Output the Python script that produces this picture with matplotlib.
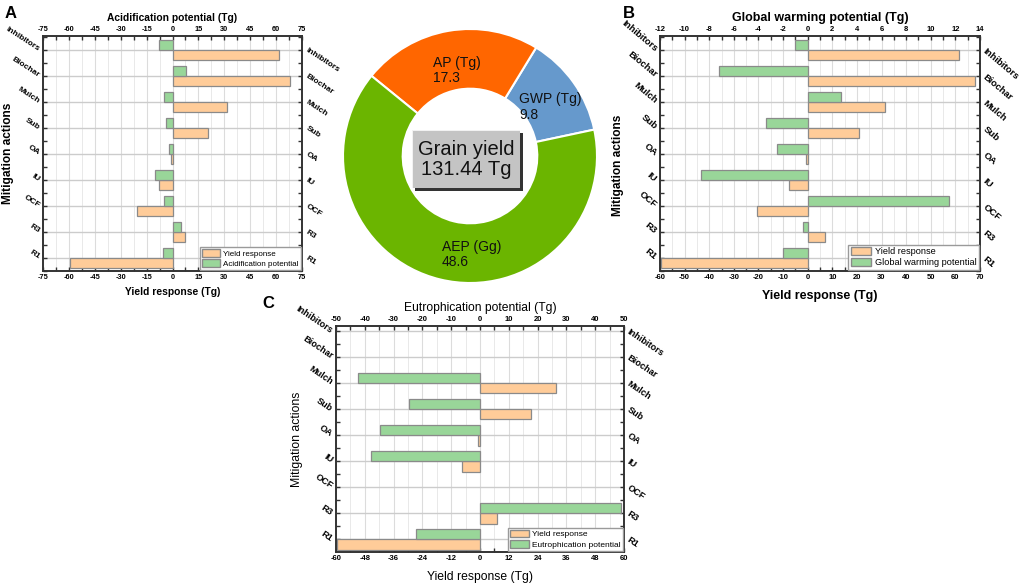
import matplotlib
matplotlib.use('Agg')
import matplotlib.pyplot as plt
import numpy as np
from matplotlib.patches import Rectangle, Patch
from matplotlib.ticker import MultipleLocator, FixedLocator

plt.rcParams['font.family'] = ['Liberation Sans', 'DejaVu Sans']
plt.rcParams['axes.unicode_minus'] = False

# ---------------- data ----------------
actions = ['Inhibitors', 'Biochar', 'Mulch', 'Sub', 'OA', 'IU', 'OCF', 'R3', 'R1']
yield_response = [61.5, 68.0, 31.5, 20.8, -0.8, -7.6, -20.4, 7.1, -59.5]
acidification = [-7.8, 7.8, -5.2, -3.5, -2.1, -9.9, -4.9, 4.9, -5.6]
global_warming = [-1.03, -7.2, 2.7, -3.39, -2.49, -8.67, 11.5, -0.41, -1.98]
yield_response_c = [np.nan, np.nan, 31.6, 21.1, -0.7, -7.6, np.nan, 7.2, -59.6]
eutrophication = [np.nan, np.nan, -42.5, -24.8, -34.6, -38.0, np.nan, 49.1, -22.3]

pie_names = ['GWP (Tg)', 'AP (Tg)', 'AEP (Gg)']
pie_values = [9.8, 17.3, 48.6]
center_text = 'Grain yield\n131.44 Tg'

ORANGE = '#FFCC99'
GREEN = '#99D699'
EDGE = '#8a8a8a'
pie_colors = ['#6699CC', '#FF6600', '#6BB500']

W, H = 1021, 583
fig = plt.figure(figsize=(W / 100, H / 100), dpi=100)


def px_rect(l, t, r, b):
    return [l / W, 1 - b / H, (r - l) / W, (b - t) / H]


def panel(rect, yv, ev, blim, bstep, tlim, tstep, bottom_label, top_label,
          env_name, bold, lab_fs, ylab_fs, tick_fs, cat_fs, leg_fs, ylim,
          rot, ylab_pos, bpad):
    fw = 'bold' if bold else 'normal'
    ax = fig.add_axes(rect)
    ax2 = ax.twiny()
    y = np.arange(len(actions))
    ax.barh(y + 0.2, yv, height=0.4, color=ORANGE, edgecolor=EDGE,
            linewidth=0.9, zorder=3)
    ax2.barh(y - 0.2, ev, height=0.4, color=GREEN, edgecolor=EDGE,
             linewidth=0.9, zorder=3)
    ax.set_xlim(blim)
    ax2.set_xlim(tlim)
    ax.set_ylim(ylim)

    ax.xaxis.set_major_locator(MultipleLocator(bstep))
    ax.xaxis.set_minor_locator(MultipleLocator(bstep / 2))
    ax2.xaxis.set_major_locator(MultipleLocator(tstep))
    ax2.xaxis.set_minor_locator(MultipleLocator(tstep / 2))
    ax.set_yticks(y)
    ax.yaxis.set_minor_locator(FixedLocator(np.arange(-0.5, 9, 1.0)))
    ax.set_yticklabels(actions)

    ax.set_axisbelow(True)
    ax.grid(which='major', axis='x', color='#dcdcdc', linewidth=0.8, zorder=0)
    ax.grid(which='minor', axis='x', color='#e9e9e9', linewidth=0.7, zorder=0)
    ax.grid(which='major', axis='y', color='#cccccc', linewidth=1.0, zorder=0)

    ax.tick_params(axis='x', which='both', direction='in', length=3,
                   width=1, color='#333333', top=False, labelsize=tick_fs,
                   pad=2.5)
    ax2.tick_params(axis='x', which='both', direction='in', length=3,
                    width=1, color='#333333', labelsize=tick_fs, pad=2.5)
    ax.tick_params(axis='y', which='both', direction='in', length=3,
                   width=1, color='#333333', left=True, right=True,
                   labelleft=True, labelright=True, labelsize=cat_fs, pad=3)
    for lab in ax.get_xticklabels() + ax2.get_xticklabels():
        lab.set_fontweight('bold')
    for t in ax.yaxis.get_major_ticks():
        t.label1.set(rotation=rot, ha='right', va='center',
                     rotation_mode='anchor', fontweight='bold')
        t.label2.set(rotation=rot, ha='left', va='center',
                     rotation_mode='anchor', fontweight='bold')

    for a in (ax, ax2):
        for s in a.spines.values():
            s.set_color('#333333')
            s.set_linewidth(1.2)

    ax.set_xlabel(bottom_label, fontsize=lab_fs, fontweight=fw, labelpad=bpad)
    ax2.set_xlabel(top_label, fontsize=lab_fs, fontweight=fw, labelpad=3)
    ax.set_ylabel('Mitigation actions', fontsize=ylab_fs, fontweight=fw,
                  va='center')
    ax.yaxis.set_label_coords(*ylab_pos)

    handles = [Patch(facecolor=ORANGE, edgecolor=EDGE, label='Yield response'),
               Patch(facecolor=GREEN, edgecolor=EDGE, label=env_name)]
    leg = ax2.legend(handles=handles, loc='lower right', fontsize=leg_fs,
                     frameon=True, fancybox=False, edgecolor='#9a9a9a',
                     framealpha=1, borderpad=0.25, labelspacing=0.2,
                     handlelength=2.2, handleheight=1.0, handletextpad=0.4,
                     borderaxespad=0.15)
    leg.get_frame().set_linewidth(1.0)
    return ax, ax2


# Panel A
panel(px_rect(43, 36, 302, 271), yield_response, acidification,
      (-75, 75), 15, (-75, 75), 15, 'Yield response (Tg)',
      'Acidification potential (Tg)', 'Acidification potential', True,
      7.4, 8.6, 5.3, 6.0, 5.8, (8.5, -0.54), -33, (-0.135, 0.5), 4)

# Panel B
panel(px_rect(660, 36, 980, 271), yield_response, global_warming,
      (-60, 70), 10, (-12, 14), 2, 'Yield response (Tg)',
      'Global warming potential (Tg)', 'Global warming potential', True,
      9.0, 8.6, 5.5, 6.8, 6.6, (8.5, -0.54), -40, (-0.131, 0.45), 6)

# Panel C
panel(px_rect(336, 326, 624, 552), yield_response_c, eutrophication,
      (-60, 60), 12, (-50, 50), 10, 'Yield response (Tg)',
      'Eutrophication potential (Tg)', 'Eutrophication potential', False,
      8.7, 8.8, 5.5, 6.6, 6.0, (8.49, -0.19), -34, (-0.135, 0.5), 6)

# Pie (donut)
cx, cy, R = 470, 156, 127
axp = fig.add_axes(px_rect(cx - R, cy - R, cx + R, cy + R))
axp.pie(pie_values, colors=pie_colors, startangle=12, counterclock=True,
        radius=1, wedgeprops=dict(width=0.47, edgecolor='white', linewidth=1.5))
axp.set_xlim(-1, 1)
axp.set_ylim(-1, 1)
axp.set_aspect('equal')
axp.axis('off')

label_pos = [(0.386, 0.386), (-0.29, 0.675), (-0.22, -0.776)]
for name, val, (lx, ly) in zip(pie_names, pie_values, label_pos):
    axp.text(lx, ly, f'{name}\n{val}', ha='left', va='center', fontsize=10,
             color='#111111', linespacing=1.1)

x0, y0, bw, bh = -0.457, -0.252, 0.851, 0.457
axp.add_patch(Rectangle((x0 + 0.022, y0 - 0.025), bw, bh, facecolor='#333333',
                        edgecolor='none', zorder=3))
axp.add_patch(Rectangle((x0, y0), bw, bh, facecolor='#f2f2f2',
                        edgecolor='none', zorder=4))
axp.add_patch(Rectangle((x0 + 0.012, y0), bw - 0.012, bh - 0.012,
                        facecolor='#c4c4c4', edgecolor='none', zorder=5))
axp.text(x0 + bw / 2 + 0.005, y0 + bh / 2 - 0.005, center_text, ha='center',
         va='center', fontsize=14.5, linespacing=1.05, zorder=6,
         color='#111111')

# Panel letters
fig.text(11 / W, 1 - 14 / H, 'A', fontsize=12, fontweight='bold',
         ha='center', va='center')
fig.text(629 / W, 1 - 13 / H, 'B', fontsize=12, fontweight='bold',
         ha='center', va='center')
fig.text(268 / W, 1 - 303 / H, 'C', fontsize=12, fontweight='bold',
         ha='center', va='center')

fig.savefig('out.png', dpi=100)
